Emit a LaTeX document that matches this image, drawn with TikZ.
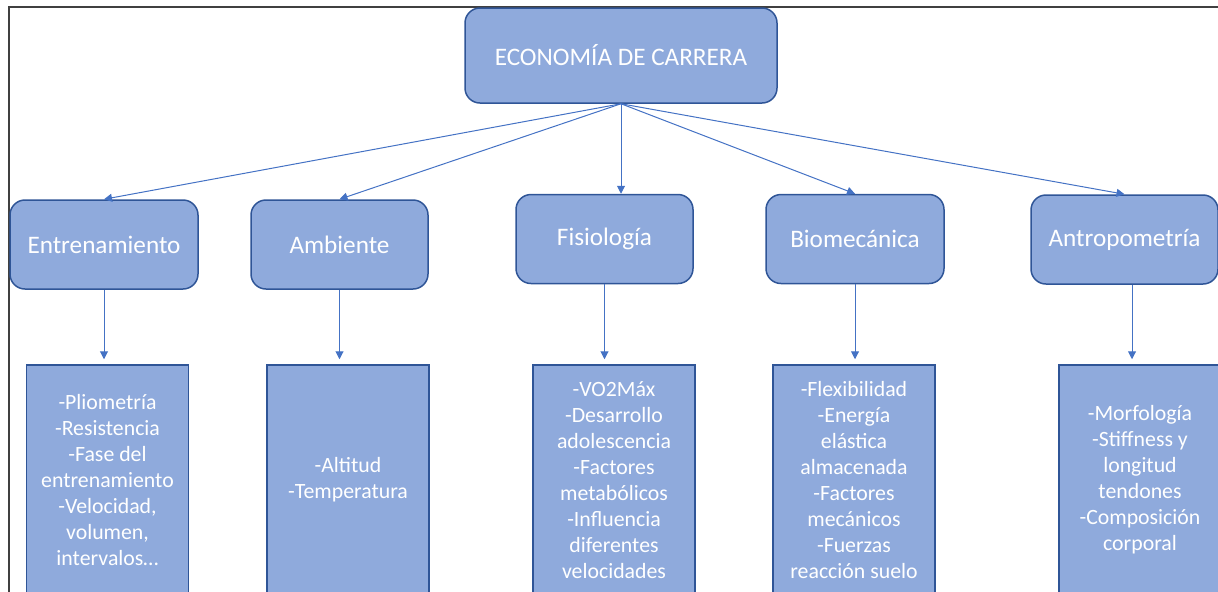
\documentclass[tikz,border=0pt]{standalone}
\usepackage{fontspec}
\setmainfont{Carlito}
\usetikzlibrary{positioning,arrows.meta}
\definecolor{boxfill}{HTML}{8FAADC}
\definecolor{boxline}{HTML}{2F5597}
\definecolor{arrline}{HTML}{4472C4}
\definecolor{frameline}{HTML}{404040}

\begin{document}
\begin{tikzpicture}[
  x=0.5pt, y=-0.5pt,
  font=\fontsize{12.6}{15}\selectfont,
  head/.style={draw=boxline, line width=0.75pt, fill=boxfill, text=white, rounded corners=7.5pt, minimum width=156pt, minimum height=47.5pt},
  cat/.style={draw=boxline, line width=0.75pt, fill=boxfill, text=white, rounded corners=7.5pt, minimum height=44.5pt},
  items/.style={draw=boxline, line width=0.75pt, fill=boxfill, text=white, align=center, minimum width=81pt, minimum height=115pt, font=\fontsize{10.9}{13}\selectfont},
  arr/.style={-{Triangle[length=4pt,width=4pt]}, draw=arrline, line width=0.5pt}
]

\useasboundingbox (0,0) rectangle (1218,591);
\clip (0,0) rectangle (1218,591);
\draw[frameline, line width=0.75pt] (9,7) rectangle (1240,610);

\node[head] (eco) at (621,55.5) {ECONOMÍA DE CARRERA};

\node[cat, minimum width=94pt] (ent) at (104,244.5) {Entrenamiento};
\node[cat, minimum width=88.5pt] (amb) at (339.5,244.5) {Ambiente};
\node[cat, minimum width=88.5pt] (fis) at (604.5,239) {Fisiología};
\node[cat, minimum width=89pt] (bio) at (855,239) {Biomecánica};
\node[cat, minimum width=93.5pt] (ant) at (1124.5,239.5) {Antropometría};

\node[items] (ent3) at (107.5,480) {-Pliometría\\-Resistencia\\-Fase del\\entrenamiento\\-Velocidad,\\volumen,\\intervalos…};
\node[items] (amb3) at (348,480) {-Altitud\\-Temperatura};
\node[items] (fis3) at (614,480) {-VO2Máx\\-Desarrollo\\adolescencia\\-Factores\\metabólicos\\-Influencia\\diferentes\\velocidades};
\node[items] (bio3) at (854,480) {-Flexibilidad\\-Energía\\elástica\\almacenada\\-Factores\\mecánicos\\-Fuerzas\\reacción suelo};
\node[items] (ant3) at (1140,480) {-Morfología\\-Stiffness y\\longitud\\tendones\\-Composición\\corporal};

\draw[arr] (eco.south) -- (ent.north);
\draw[arr] (eco.south) -- (amb.north);
\draw[arr] (eco.south) -- (eco.south |- fis.north);
\draw[arr] (eco.south) -- (bio.north);
\draw[arr] (eco.south) -- (ant.north);

\draw[arr, shorten >=2.5pt] (ent.south) -- (ent.south |- ent3.north);
\draw[arr, shorten >=2.5pt] (amb.south) -- (amb.south |- amb3.north);
\draw[arr, shorten >=2.5pt] (fis.south) -- (fis.south |- fis3.north);
\draw[arr, shorten >=2.5pt] (bio.south) -- (bio.south |- bio3.north);
\draw[arr, shorten >=2.5pt] ([xshift=3.75pt]ant.south) -- ([xshift=3.75pt]ant.south |- ant3.north);

\end{tikzpicture}
\end{document}
